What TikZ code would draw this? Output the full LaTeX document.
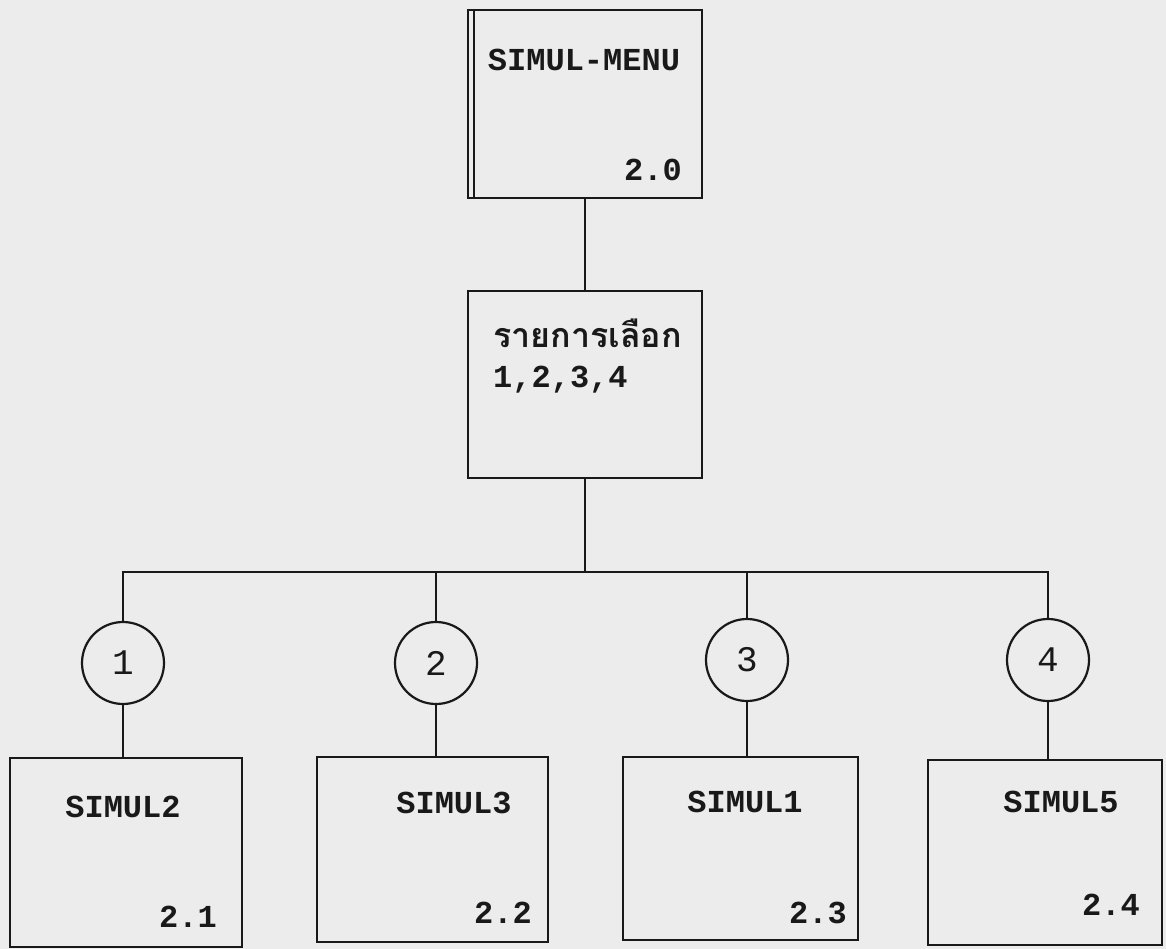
\documentclass[tikz,border=0pt]{standalone}
\usepackage{fontspec}
\setmainfont{Liberation Mono}
\newfontfamily\thaifont[Script=Thai]{Loma}
\newfontfamily\tw{Liberation Mono}
\usetikzlibrary{calc}
\definecolor{paper}{RGB}{236,236,236}
\definecolor{ink}{RGB}{25,25,25}
\tikzset{
  boxnode/.style={draw=ink, line width=2.4pt, rectangle, inner sep=0pt},
  circnode/.style={draw=ink, line width=2.2pt, circle, minimum size=82pt, inner sep=0pt, text=ink, font=\fontsize{36}{36}\selectfont\tw},
  lbl/.style={inner sep=0pt, text=ink, font=\fontsize{32}{32}\selectfont\tw\bfseries},
  conn/.style={line width=2.2pt, draw=ink}
}
\begin{document}
\begin{tikzpicture}[x=1pt,y=-1pt]
\useasboundingbox (0,0) rectangle (1166,949);
\fill[paper] (0,0) rectangle (1166,949);
% boxes
\node[boxnode, minimum width=234pt, minimum height=188pt] (top) at (585,104) {};
\node[boxnode, minimum width=234pt, minimum height=187pt] (menu) at (585,384.5) {};
\node[boxnode, minimum width=232pt, minimum height=189pt] (b1) at (126,852.5) {};
\node[boxnode, minimum width=231pt, minimum height=185pt] (b2) at (432.5,849.5) {};
\node[boxnode, minimum width=235pt, minimum height=183pt] (b3) at (740.5,848.5) {};
\node[boxnode, minimum width=234pt, minimum height=185pt] (b4) at (1045,852.5) {};
% double left edge of top box
\coordinate (dbltop) at ($(top.north west)+(7,0)$);
\coordinate (dblbot) at ($(top.south west)+(7,0)$);
\draw[conn] (dbltop) -- (dblbot);
% circles
\node[circnode] (c1) at (123,663) {1};
\node[circnode] (c2) at (436,663) {2};
\node[circnode] (c3) at (747,660) {3};
\node[circnode] (c4) at (1048,660) {4};
% texts
\node[lbl] (t0) at (584,60) {SIMUL-MENU};
\node[lbl, anchor=east] (n0) at (682,170) {2.0};
\node[lbl, anchor=west, font=\fontsize{34}{34}\selectfont\thaifont\bfseries] (tth) at (493,333) {รายการเลือก};
\node[lbl, anchor=west] (tnum) at (493,380) {1,2,3,4};
\node[lbl] (t1) at (123,807) {SIMUL2};
\node[lbl, anchor=east] (n1) at (217,917) {2.1};
\node[lbl] (t2) at (454,803) {SIMUL3};
\node[lbl, anchor=east] (n2) at (532,913) {2.2};
\node[lbl] (t3) at (745,802) {SIMUL1};
\node[lbl, anchor=east] (n3) at (847,913) {2.3};
\node[lbl] (t4) at (1061,802) {SIMUL5};
\node[lbl, anchor=east] (n4) at (1140,905) {2.4};
% connectors
\coordinate (bus) at (587,572);
\draw[conn] (top.south) -- (menu.north);
\draw[conn] (menu.south) -- (menu.south |- bus);
\draw[conn] (c1.north) -- (c1.north |- bus) -- (c4.north |- bus) -- (c4.north);
\draw[conn] (c2.north) -- (c2.north |- bus);
\draw[conn] (c3.north) -- (c3.north |- bus);
\draw[conn] (c1.south) -- (c1.south |- b1.north);
\draw[conn] (c2.south) -- (c2.south |- b2.north);
\draw[conn] (c3.south) -- (c3.south |- b3.north);
\draw[conn] (c4.south) -- (c4.south |- b4.north);
\end{tikzpicture}
\end{document}
